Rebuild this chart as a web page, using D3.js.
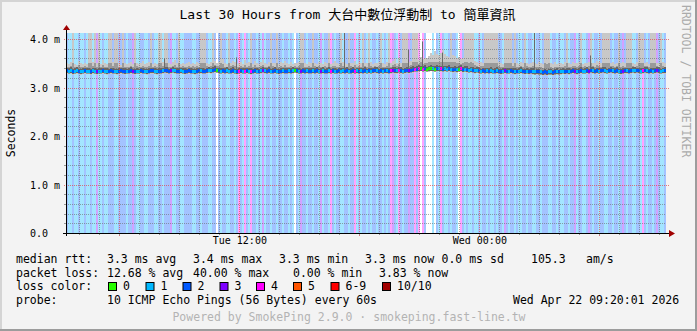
<!DOCTYPE html>
<html><head><meta charset="utf-8">
<script src="https://cdn.jsdelivr.net/npm/d3@7"></script>
<style>
body{margin:0;background:#f3f3f3}
svg{display:block}
text{font-family:"DejaVu Sans Mono","Noto Sans CJK TC",monospace}
</style>
</head><body><svg id="c" width="697" height="331"></svg>
<script>
// ---------------- DATA ----------------
const titleText = "Last 30 Hours from 大台中數位浮動制 to 簡單資訊";
const yAxisTitle = "Seconds";
const sideText = "RRDTOOL / TOBI OETIKER";
const startTime = new Date(2026, 3, 21, 3, 20);
const endTime = new Date(2026, 3, 22, 9, 20);
const binMinutes = 6;
const yTicks = [0, 1, 2, 3, 4];
const yTickLabels = ["0.0", "1.0 m", "2.0 m", "3.0 m", "4.0 m"];
const lossColors = ["#26ff00", "#00b8ff", "#0059ff", "#7e00ff", "#ff00ff", "#ff5500", "#ff0000", "#a10000"];
const lossLabels = ["0", "1", "2", "3", "4", "5", "6-9", "10/10"];
// lost pings (of 10) per 6-minute bin
const lossPerBin = (
  "2112112112" + "1121131121" + "1222112222" + "1223211221" + "1222112212" + "2231122112" + "2221122122" + "21122" +
  "0" +
  "2122112212" + "4214214221" + "2131221221" + "2212212102" + "1322122122" + "1312214212" + "2112212241" + "2122" +
  "1212212212" + "1243214212" + "2322424042" + "0001021421" + "1212210421" + "2112112122" + "1211212213" + "21221" +
  "2112212211" + "2212221122" + "1211221223" + "1221123212" + "2122112212" + "2123212211" + "2214212212" + "32112"
).split("").map(Number);
// median rtt (ms) per bin
const medianRtt = [
  3.35,3.34,3.35,3.33,3.34,3.35,3.34,3.33,3.34,3.35,
  3.34,3.34,3.33,3.35,3.34,3.33,3.34,3.34,3.35,3.34,
  3.33,3.34,3.35,3.34,3.34,3.33,3.34,3.35,3.34,3.33,
  3.34,3.34,3.35,3.34,3.33,3.34,3.34,3.35,3.34,3.34,
  3.33,3.34,3.35,3.35,3.34,3.33,3.34,3.34,3.35,3.36,
  3.35,3.34,3.35,3.36,3.35,3.34,3.34,3.35,3.34,3.33,
  3.34,3.35,3.34,3.34,3.33,3.34,3.35,3.35,3.34,3.34,
  3.35,3.36,3.35,3.36,3.37,3.36,3.35,3.34,3.35,3.34,
  3.35,3.34,3.34,3.35,3.34,3.33,3.34,3.35,3.34,3.34,
  3.35,3.34,3.33,3.34,3.35,3.34,3.34,3.35,3.36,3.35,
  3.34,3.35,3.34,3.34,3.35,3.34,3.33,3.34,3.35,3.34,
  3.34,3.35,3.34,3.35,3.36,3.35,3.34,3.34,3.35,3.34,
  3.35,3.34,3.34,3.35,3.34,3.35,3.34,3.34,3.35,3.34,
  3.34,3.35,3.34,3.35,3.34,3.34,3.35,3.34,3.35,3.34,
  3.35,3.34,3.34,3.35,3.34,3.35,3.34,3.35,3.34,3.35,
  3.34,3.35,3.34,3.35,3.36,3.35,3.34,3.35,3.34,3.35,
  3.35,3.34,3.35,3.36,3.35,3.35,3.36,3.35,3.34,3.35,
  3.36,3.35,3.36,3.37,3.38,3.38,3.39,3.40,3.38,3.39,
  3.38,3.39,3.40,3.39,3.38,3.39,3.40,3.39,3.38,3.39,
  3.38,3.39,3.38,3.37,3.38,3.37,3.38,3.39,3.37,3.38,
  3.37,3.36,3.37,3.36,3.35,3.36,3.35,3.34,3.35,3.34,
  3.35,3.34,3.35,3.34,3.34,3.35,3.34,3.33,3.34,3.35,
  3.34,3.34,3.35,3.34,3.33,3.34,3.34,3.35,3.34,3.33,
  3.34,3.33,3.34,3.33,3.32,3.33,3.32,3.32,3.31,3.32,
  3.31,3.32,3.32,3.31,3.32,3.33,3.32,3.33,3.34,3.33,
  3.34,3.33,3.34,3.35,3.34,3.33,3.34,3.35,3.34,3.34,
  3.35,3.34,3.36,3.35,3.34,3.35,3.34,3.35,3.36,3.35,
  3.34,3.35,3.36,3.35,3.34,3.35,3.34,3.33,3.34,3.35,
  3.35,3.34,3.35,3.36,3.35,3.36,3.35,3.34,3.35,3.36,
  3.35,3.34,3.35,3.34,3.35,3.36,3.35,3.34,3.35,3.35
];
// highest ping (ms) per bin; 4.5 = above the top of the graph
const maxRtt = [
  3.50,3.48,3.52,4.5,3.49,3.47,3.55,3.50,3.48,3.51,
  3.49,4.5,4.5,3.53,4.5,3.50,4.5,3.48,3.56,3.50,
  3.49,4.5,4.5,3.52,4.5,4.5,3.50,3.47,4.5,3.51,
  3.48,3.50,3.53,3.49,4.5,3.51,3.48,3.50,3.54,3.49,
  3.50,3.52,4.5,3.49,3.51,3.48,4.5,4.5,3.53,4.5,
  4.5,3.50,3.48,3.52,3.57,3.50,4.5,3.49,3.51,3.48,
  3.50,3.53,3.49,3.51,3.48,3.52,3.50,4.5,4.5,4.5,
  3.51,3.49,3.52,4.5,3.54,3.50,3.52,4.5,3.58,3.50,
  3.49,4.5,3.51,3.55,3.52,3.48,3.50,3.53,3.49,3.57,
  3.50,3.52,4.5,3.49,3.54,3.50,3.48,3.52,3.56,3.50,
  3.49,3.53,4.5,3.51,3.50,4.5,3.48,3.52,3.50,3.55,
  3.50,3.48,3.52,3.49,3.51,3.50,3.53,4.5,4.5,3.50,
  3.49,3.52,3.50,4.5,3.51,3.48,3.53,3.50,3.49,3.52,
  3.50,4.5,3.49,3.51,3.54,3.50,3.48,4.5,3.52,3.50,
  3.49,4.5,3.51,3.50,3.55,3.49,3.52,3.50,4.5,3.51,
  3.50,4.5,3.52,3.49,3.51,3.50,3.53,4.5,3.50,3.48,
  3.52,4.5,3.50,3.55,3.58,3.51,3.60,3.50,4.5,4.5,
  4.5,3.52,3.54,4.5,4.5,4.5,3.56,3.62,3.58,3.60,
  3.60,3.65,3.72,3.68,3.75,3.70,3.66,3.72,3.78,3.70,
  3.65,3.62,4.5,3.68,3.64,3.60,3.62,3.58,3.60,4.5,
  4.5,4.5,4.5,4.5,3.55,3.52,3.50,3.53,3.51,4.5,
  4.5,4.5,4.5,4.5,4.5,4.5,3.52,3.50,3.49,4.5,
  4.5,4.5,4.5,3.51,4.5,3.50,3.48,3.52,3.50,4.5,
  3.51,3.49,3.50,3.53,3.50,3.48,3.52,3.50,3.49,4.5,
  4.5,4.5,3.50,3.48,3.52,3.49,3.51,3.50,3.48,3.52,
  4.5,3.50,3.49,3.53,3.51,3.50,3.52,4.5,3.49,3.51,
  3.50,3.53,4.5,3.51,3.50,3.54,3.52,3.50,4.5,4.5,
  4.5,4.5,3.50,3.52,3.49,3.51,4.5,3.50,3.53,3.50,
  4.5,4.5,4.5,3.51,3.49,3.52,4.5,4.5,4.5,3.50,
  3.52,3.49,4.5,4.5,4.5,3.51,3.50,4.5,3.52,3.50
];
// bins where several pings were high
const spikeBins = [139, 234, 178, 171, 188, 85, 49, 262];
const spikeRtt  = [4.5, 4.5, 3.95, 3.78, 3.72, 3.62, 3.60, 3.66];

const legendRows = [
  ["median rtt:", ["3.3 ms avg", "3.4 ms max", "3.3 ms min", "3.3 ms now", "0.0 ms sd", "105.3", "am/s"]],
  ["packet loss:", ["12.68 % avg", "40.00 % max", "0.00 % min", "3.83 % now"]]
];
const probeText = "10 ICMP Echo Pings (56 Bytes) every 60s";
const dateText = "Wed Apr 22 09:20:01 2026";
const footerText = "Powered by SmokePing 2.9.0 · smokeping.fast-line.tw";

// ---------------- LAYOUT ----------------
const W = 697, H = 331;
const plot = {left: 66, right: 666, top: 33, bottom: 233};
const svg = d3.select("#c");

const x = d3.scaleTime().domain([startTime, endTime]).range([plot.left, plot.right]);
const y = d3.scaleLinear().domain([0, 200 / 48.5]).range([plot.bottom, plot.top]);
const yTop = y.domain()[1];
const binStart = i => new Date(startTime.getTime() + i * binMinutes * 60000);
const binEnd = i => new Date(startTime.getTime() + (i + 1) * binMinutes * 60000);

// background + bevel
svg.append("rect").attr("width", W).attr("height", H).attr("fill", "#f3f3f3");
svg.append("rect").attr("x", 0).attr("y", 0).attr("width", W).attr("height", 2).attr("fill", "#d4d4d4");
svg.append("rect").attr("x", 0).attr("y", 0).attr("width", 2).attr("height", H).attr("fill", "#d4d4d4");
svg.append("rect").attr("x", 0).attr("y", H - 2).attr("width", W).attr("height", 2).attr("fill", "#9c9c9c");
svg.append("rect").attr("x", W - 2).attr("y", 0).attr("width", 2).attr("height", H).attr("fill", "#9c9c9c");

// plot canvas
svg.append("rect").attr("x", plot.left).attr("y", plot.top)
  .attr("width", plot.right - plot.left).attr("height", plot.bottom - plot.top).attr("fill", "#ffffff");

const bins = d3.range(lossPerBin.length);
const lightBg = c => { const k = d3.rgb(c), a = 0.36; return d3.rgb(255 - (255 - k.r) * a, 255 - (255 - k.g) * a, 255 - (255 - k.b) * a).toString(); };

// loss background
svg.append("g").selectAll("rect").data(bins.filter(i => lossPerBin[i] > 0)).join("rect")
  .attr("x", i => x(binStart(i))).attr("width", i => x(binEnd(i)) - x(binStart(i)))
  .attr("y", plot.top).attr("height", plot.bottom - plot.top)
  .attr("fill", i => lightBg(lossColors[Math.min(lossPerBin[i], 6)]))
  .attr("shape-rendering", "crispEdges");

// grid (under data)
const grid = svg.append("g");
const minorY = d3.range(0, 4.11, 0.2).filter(v => Math.abs(v - Math.round(v)) > 1e-6);
const hours = d3.timeHour.range(startTime, endTime);
grid.selectAll("line.my").data(minorY).join("line")
  .attr("x1", plot.left).attr("x2", plot.right).attr("y1", d => Math.round(y(d)) + 0.5).attr("y2", d => Math.round(y(d)) + 0.5)
  .attr("stroke", "rgba(110,110,110,0.4)").attr("stroke-dasharray", "1,1");
grid.selectAll("line.mx").data(hours.filter(h => h.getHours() % 6 !== 0)).join("line")
  .attr("x1", d => Math.round(x(d)) + 0.5).attr("x2", d => Math.round(x(d)) + 0.5).attr("y1", plot.top).attr("y2", plot.bottom)
  .attr("stroke", "rgba(110,110,110,0.4)").attr("stroke-dasharray", "1,1");
grid.selectAll("line.My").data(yTicks.slice(1)).join("line")
  .attr("x1", plot.left - 2).attr("x2", plot.right + 3).attr("y1", d => Math.round(y(d)) + 0.5).attr("y2", d => Math.round(y(d)) + 0.5)
  .attr("stroke", "rgba(225,70,70,0.7)").attr("stroke-dasharray", "1,1");
grid.selectAll("line.Mx").data(hours.filter(h => h.getHours() % 6 === 0)).join("line")
  .attr("x1", d => Math.round(x(d)) + 0.5).attr("x2", d => Math.round(x(d)) + 0.5).attr("y1", plot.top).attr("y2", plot.bottom + 3)
  .attr("stroke", "rgba(225,70,70,0.7)").attr("stroke-dasharray", "1,1");

// smoke
const clipTop = v => Math.min(v, yTop);
const smoke = svg.append("g").attr("shape-rendering", "crispEdges");
const midTop = i => medianRtt[i] + (Math.min(maxRtt[i], 3.64) - medianRtt[i]) * 0.55;
smoke.selectAll("rect.l").data(bins).join("rect").attr("class", "l")
  .attr("x", i => x(binStart(i))).attr("width", i => x(binEnd(i)) - x(binStart(i)))
  .attr("y", i => y(clipTop(maxRtt[i])))
  .attr("height", i => y(medianRtt[i] - 0.07) - y(clipTop(maxRtt[i])))
  .attr("fill", "#c8c8c8");
smoke.selectAll("rect.m").data(bins).join("rect").attr("class", "m")
  .attr("x", i => x(binStart(i))).attr("width", i => x(binEnd(i)) - x(binStart(i)))
  .attr("y", i => y(midTop(i)))
  .attr("height", i => y(medianRtt[i] - 0.06) - y(midTop(i)))
  .attr("fill", "#9a9a9a");
smoke.selectAll("rect.d").data(bins).join("rect").attr("class", "d")
  .attr("x", i => x(binStart(i))).attr("width", i => x(binEnd(i)) - x(binStart(i)))
  .attr("y", i => y(medianRtt[i] + 0.05 + (i % 3) * 0.01))
  .attr("height", i => y(medianRtt[i] - 0.05) - y(medianRtt[i] + 0.05 + (i % 3) * 0.01))
  .attr("fill", "#666666");
// tall spikes
svg.append("g").selectAll("line").data(spikeBins.map((b, k) => [b, spikeRtt[k]])).join("line")
  .attr("x1", d => Math.round(x(binStart(d[0]))) + 0.5).attr("x2", d => Math.round(x(binStart(d[0]))) + 0.5)
  .attr("y1", d => y(medianRtt[d[0]])).attr("y2", d => y(clipTop(d[1])))
  .attr("stroke", "#6a6a6a").attr("stroke-width", 1);

// median coloured by loss
svg.append("g").attr("shape-rendering", "crispEdges").selectAll("rect").data(bins).join("rect")
  .attr("x", i => x(binStart(i))).attr("width", i => x(binEnd(i)) - x(binStart(i)))
  .attr("y", i => y(medianRtt[i]) - 1.5).attr("height", 3)
  .attr("fill", i => lossColors[Math.min(lossPerBin[i], 6)]);

// red major grid drawn over the data too
grid.raise();
grid.selectAll("line.my, line.mx").remove();

// minor ticks
const ticks = svg.append("g");
ticks.selectAll("line.ty").data(minorY).join("line")
  .attr("x1", plot.left - 2).attr("x2", plot.left).attr("y1", d => Math.round(y(d)) + 0.5).attr("y2", d => Math.round(y(d)) + 0.5)
  .attr("stroke", "#999");
ticks.selectAll("line.tx").data(hours).join("line")
  .attr("x1", d => Math.round(x(d)) + 0.5).attr("x2", d => Math.round(x(d)) + 0.5).attr("y1", plot.bottom).attr("y2", plot.bottom + 2)
  .attr("stroke", "#999");
// minor grid only where not covered by smoke: above the data, faint
ticks.selectAll("line.my2").data(minorY).join("line")
  .attr("x1", plot.left).attr("x2", plot.right).attr("y1", d => Math.round(y(d)) + 0.5).attr("y2", d => Math.round(y(d)) + 0.5)
  .attr("stroke", "rgba(110,110,110,0.35)").attr("stroke-dasharray", "1,1");
ticks.selectAll("line.mx2").data(hours.filter(h => h.getHours() % 6 !== 0)).join("line")
  .attr("x1", d => Math.round(x(d)) + 0.5).attr("x2", d => Math.round(x(d)) + 0.5).attr("y1", plot.top).attr("y2", plot.bottom)
  .attr("stroke", "rgba(110,110,110,0.35)").attr("stroke-dasharray", "1,1");

// axes lines + arrows
svg.append("line").attr("x1", plot.left + 0.5).attr("x2", plot.left + 0.5).attr("y1", plot.bottom + 3).attr("y2", plot.top - 5)
  .attr("stroke", "#000").attr("stroke-width", 1);
svg.append("line").attr("x1", plot.left - 3).attr("x2", plot.right + 5).attr("y1", plot.bottom + 0.5).attr("y2", plot.bottom + 0.5)
  .attr("stroke", "#000").attr("stroke-width", 1);
svg.append("path").attr("d", `M${plot.left - 3},${plot.top - 3}L${plot.left + 0.5},${plot.top - 8}L${plot.left + 4},${plot.top - 3}Z`).attr("fill", "#a00000");
svg.append("path").attr("d", `M${plot.right + 3},${plot.bottom - 3}L${plot.right + 9},${plot.bottom + 0.5}L${plot.right + 3},${plot.bottom + 4}Z`).attr("fill", "#a00000");

// y labels
svg.append("g").selectAll("text").data(yTicks).join("text")
  .attr("x", 30).attr("y", d => y(d) + 4).attr("font-size", 10).attr("fill", "#000")
  .text((d, i) => yTickLabels[i]);
// x labels via d3 axis
const xAxis = d3.axisBottom(x).ticks(d3.timeHour.every(12)).tickFormat(d3.timeFormat("%a %H:%M")).tickSize(0).tickPadding(0);
const gx = svg.append("g").attr("transform", `translate(0,${plot.bottom + 4})`).call(xAxis);
gx.select(".domain").remove();
gx.selectAll("text").attr("font-family", "DejaVu Sans Mono").attr("font-size", 10).attr("fill", "#000").attr("dy", "0.72em");

// titles
svg.append("text").attr("x", 347.5).attr("y", 19).attr("text-anchor", "middle").attr("font-size", 13).attr("fill", "#000").text(titleText);
svg.append("text").attr("transform", "translate(15,133) rotate(-90)").attr("text-anchor", "middle")
  .attr("font-size", 11.5).attr("fill", "#000").text(yAxisTitle);
svg.append("text").attr("transform", "translate(682,5) rotate(90)").attr("font-size", 11.5).attr("fill", "#ababab").text(sideText);

// legend
const FS = 11.5;
const row1X = [107, 193, 279, 365, 441.5, 531, 586];
const row2X = [107, 193, 293, 379];
const rowXs = [row1X, row2X];
legendRows.forEach((r, k) => {
  const by = 263 + k * 13.5;
  svg.append("text").attr("x", 16).attr("y", by).attr("font-size", FS).text(r[0]);
  r[1].forEach((t, j) => svg.append("text").attr("x", rowXs[k][j]).attr("y", by).attr("font-size", FS).text(t));
});
svg.append("text").attr("x", 16).attr("y", 290).attr("font-size", FS).text("loss color:");
const boxX = [108, 145.5, 182.5, 219.5, 256, 293, 330.5, 382];
lossColors.forEach((c, j) => {
  svg.append("rect").attr("x", boxX[j] + 0.5).attr("y", 282.5).attr("width", 8).attr("height", 8)
    .attr("fill", c).attr("stroke", "#000").attr("stroke-width", 1);
  svg.append("text").attr("x", boxX[j] + 15).attr("y", 290).attr("font-size", FS).text(lossLabels[j]);
});
svg.append("text").attr("x", 16).attr("y", 304).attr("font-size", FS).text("probe:");
svg.append("text").attr("x", 107).attr("y", 304).attr("font-size", FS).text(probeText);
svg.append("text").attr("x", 513).attr("y", 304).attr("font-size", FS).text(dateText);
svg.append("text").attr("x", 349).attr("y", 321).attr("text-anchor", "middle").attr("font-size", FS).attr("fill", "#b3b3b3").text(footerText);
</script>
</body></html>
